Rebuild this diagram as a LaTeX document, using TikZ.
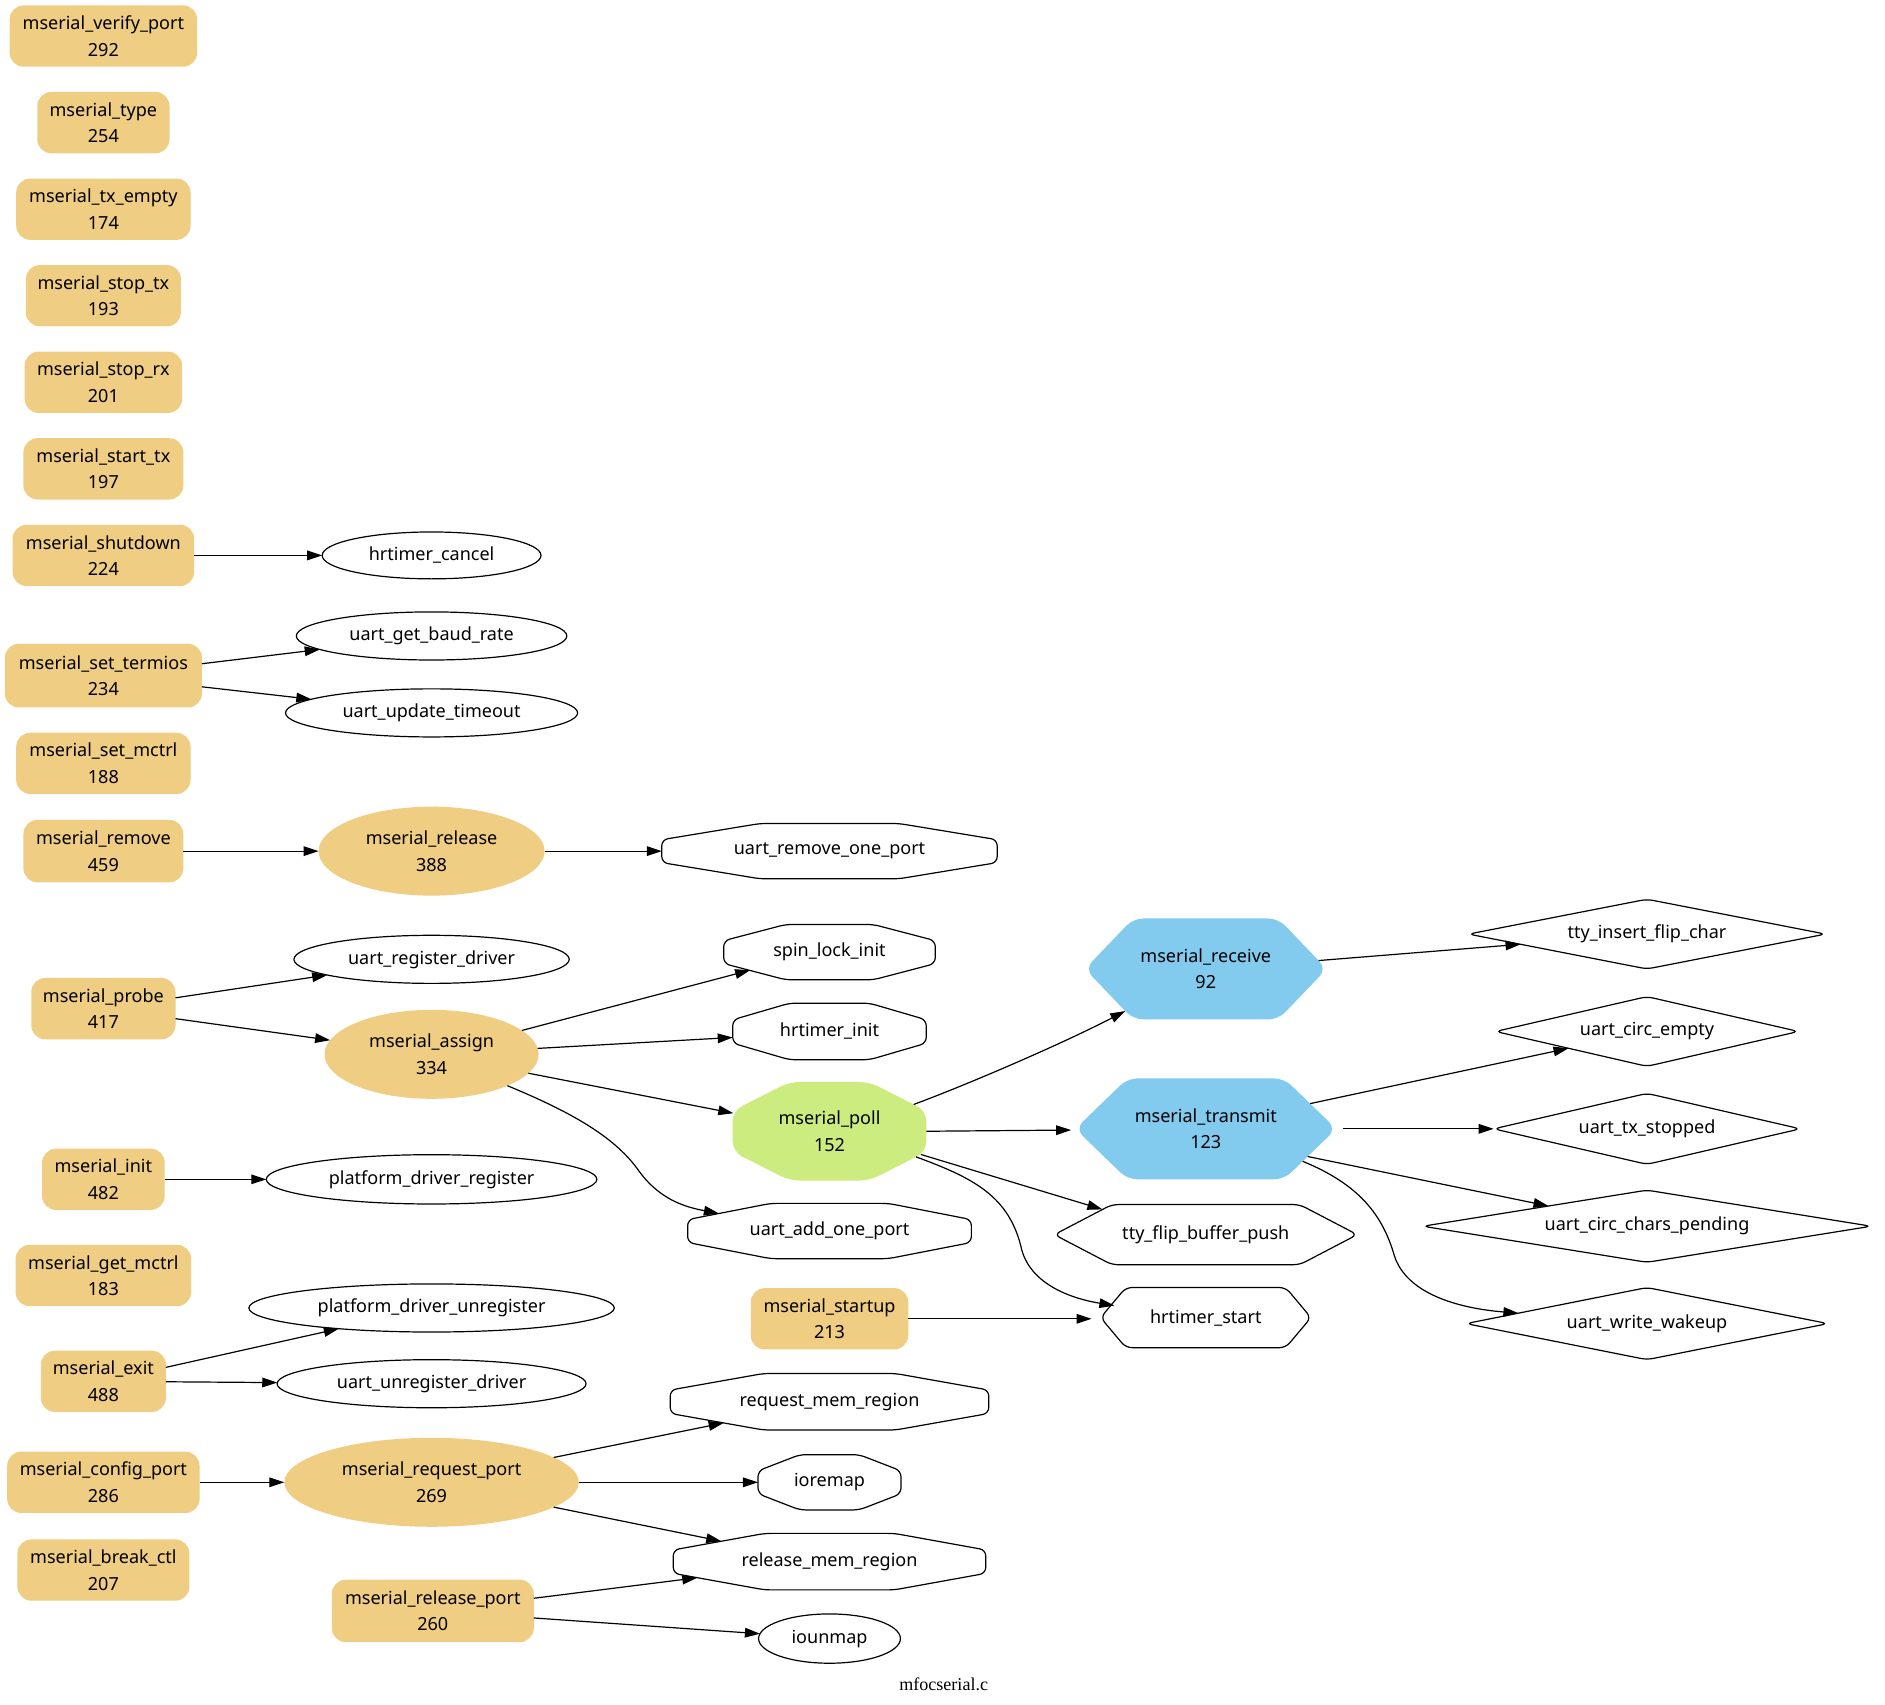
\documentclass[tikz,border=0pt]{standalone}
\usepackage{fontspec}
\setmainfont{Noto Sans}
\newfontfamily\titlefont{Liberation Serif}
\usetikzlibrary{shapes.geometric,arrows.meta,calc,backgrounds}
\definecolor{gold}{RGB}{239,205,130}
\definecolor{lgreen}{RGB}{205,236,127}
\definecolor{lblue}{RGB}{130,203,238}
\newcommand\hexout[3]{%
  \path[#3] (#1.west) -- ($(#1.north west)!#2!(#1.north east)$) -- ($(#1.north east)!#2!(#1.north west)$)
   -- (#1.east) -- ($(#1.south east)!#2!(#1.south west)$) -- ($(#1.south west)!#2!(#1.south east)$) -- cycle;}
\newcommand\octout[2]{%
  \path[#2] ($(#1.north west)!0.293!(#1.north east)$) -- ($(#1.north east)!0.293!(#1.north west)$)
   -- ($(#1.north east)!0.293!(#1.south east)$) -- ($(#1.south east)!0.293!(#1.north east)$)
   -- ($(#1.south east)!0.293!(#1.south west)$) -- ($(#1.south west)!0.293!(#1.south east)$)
   -- ($(#1.south west)!0.293!(#1.north west)$) -- ($(#1.north west)!0.293!(#1.south west)$) -- cycle;}
\begin{document}
\begin{tikzpicture}[x=0.6pt,y=-0.6pt,
  every node/.style={inner sep=0pt,outer sep=0pt,align=center,font=\fontsize{9}{13.2}\selectfont},
  sz/.style 2 args={minimum width=#1*0.6pt,minimum height=#2*0.6pt},
  gbox/.style 2 args={sz={#1}{#2},shape=rectangle,rounded corners=7pt,fill=gold},
  gell/.style 2 args={sz={#1}{#2},shape=ellipse,fill=gold},
  well/.style 2 args={sz={#1}{#2},shape=ellipse,draw,line width=0.6pt},
  plain/.style 2 args={sz={#1}{#2},shape=rectangle},
  outl/.style={draw,line width=0.6pt,rounded corners=3pt},
  bluefill/.style={fill=lblue,rounded corners=5pt},
  greenfill/.style={fill=lgreen,rounded corners=5pt},
  dia/.style n args={3}{sz={#1}{#2},shape=diamond,shape aspect=#3,rounded corners=3pt,draw,line width=0.6pt},
  arr/.style={-{Triangle[length=7.5pt,width=4.8pt]},line width=0.6pt}
]
\useasboundingbox (0,0) rectangle (1568,1418);
% gold boxes
\node[gbox={156}{51}] (verify) at (86,30) {mserial\_verify\_port\\292};
\node[gbox={110}{51}] (type) at (86,102) {mserial\_type\\254};
\node[gbox={145}{51}] (txempty) at (86,174) {mserial\_tx\_empty\\174};
\node[gbox={129}{51}] (stoptx) at (86,246) {mserial\_stop\_tx\\193};
\node[gbox={131}{51}] (stoprx) at (86,318) {mserial\_stop\_rx\\201};
\node[gbox={133}{51}] (starttx) at (86,390) {mserial\_start\_tx\\197};
\node[gbox={151}{51}] (shutdown) at (86,462) {mserial\_shutdown\\224};
\node[gbox={164}{53}] (settermios) at (86,562) {mserial\_set\_termios\\234};
\node[gbox={145}{51}] (setmctrl) at (86,635) {mserial\_set\_mctrl\\188};
\node[gbox={133}{52}] (remove) at (86,708) {mserial\_remove\\459};
\node[gbox={120}{51}] (probe) at (86,839) {mserial\_probe\\417};
\node[gbox={102}{51}] (init) at (86,981) {mserial\_init\\482};
\node[gbox={146}{51}] (getmctrl) at (86,1061) {mserial\_get\_mctrl\\183};
\node[gbox={104}{51}] (exit) at (86,1149) {mserial\_exit\\488};
\node[gbox={160}{51}] (configport) at (86,1233) {mserial\_config\_port\\286};
\node[gbox={143}{51}] (breakctl) at (86,1306) {mserial\_break\_ctl\\207};
\node[gbox={168}{52}] (releaseport) at (360,1340) {mserial\_release\_port\\260};
\node[gbox={131}{51}] (startup) at (690,1097) {mserial\_startup\\213};
% gold ellipses
\node[gell={188}{74}] (release) at (359,708) {mserial\_release\\388};
\node[gell={178}{74}] (assign) at (359,877) {mserial\_assign\\334};
\node[gell={245}{74}] (requestport) at (359,1233) {mserial\_request\_port\\269};
% white ellipses
\node[well={182}{39}] (hrcancel) at (359,462) {hrtimer\_cancel};
\node[well={225}{40}] (baud) at (359,529) {uart\_get\_baud\_rate};
\node[well={243}{40}] (updtimeout) at (359,593) {uart\_update\_timeout};
\node[well={229}{40}] (regdriver) at (359,798) {uart\_register\_driver};
\node[well={275}{41}] (pdreg) at (359,981) {platform\_driver\_register};
\node[well={304}{40}] (pdunreg) at (359,1088) {platform\_driver\_unregister};
\node[well={257}{40}] (unregdriver) at (359,1151) {uart\_unregister\_driver};
\node[well={118}{41}] (iounmap) at (690,1363) {iounmap};
% octagons
\node[plain={279}{46}] (removeone) at (690,708) {uart\_remove\_one\_port};
\node[plain={176}{46}] (spinlock) at (690,792) {spin\_lock\_init};
\node[plain={161}{47}] (hrinit) at (690,858) {hrtimer\_init};
\node[plain={236}{46}] (addone) at (690,1024) {uart\_add\_one\_port};
\node[plain={265}{47}] (reqmem) at (690,1166) {request\_mem\_region};
\node[plain={119}{46}] (ioremap) at (690,1233) {ioremap};
\node[plain={260}{47}] (relmem) at (690,1299) {release\_mem\_region};
\node[plain={161}{82}] (poll) at (690,941) {mserial\_poll\\152};
% hexagons
\node[plain={201}{84}] (receive) at (1003,806) {mserial\_receive\\92};
\node[plain={217}{84}] (transmit) at (1003,939) {mserial\_transmit\\123};
\node[plain={252}{50}] (flippush) at (1003,1027) {tty\_flip\_buffer\_push};
\node[plain={175}{50}] (hrstart) at (1003,1096) {hrtimer\_start};
\begin{pgfonlayer}{background}
\octout{removeone}{outl}
\octout{spinlock}{outl}
\octout{hrinit}{outl}
\octout{addone}{outl}
\octout{reqmem}{outl}
\octout{ioremap}{outl}
\octout{relmem}{outl}
\octout{poll}{greenfill}
\hexout{receive}{0.2}{bluefill}
\hexout{transmit}{0.2}{bluefill}
\hexout{flippush}{0.19}{outl}
\hexout{hrstart}{0.12}{outl}
\end{pgfonlayer}
% border points of octagons and hexagons
\coordinate (remIn) at (550.5,708);
\coordinate (spinIn) at (624,807);
\coordinate (hriIn) at (609.5,863);
\coordinate (pollIn) at (610,926);
\coordinate (addIn) at (598,1009.4);
\coordinate (reqIn) at (602,1183.6);
\coordinate (iorIn) at (630.5,1233);
\coordinate (relInA) at (600,1282);
\coordinate (relInB) at (580,1312.4);
\coordinate (pollOutA) at (760,918.7);
\coordinate (pollOutB) at (770.5,941);
\coordinate (pollOutC) at (766,960.3);
\coordinate (pollOutD) at (762,962.3);
\coordinate (rcvIn) at (936,841);
\coordinate (rcvOut) at (1096.8,799);
\coordinate (trIn) at (891,940);
\coordinate (trOutA) at (1089.8,918);
\coordinate (trOutB) at (1117,939);
\coordinate (trOutC) at (1087.7,962);
\coordinate (trOutD) at (1083.6,966);
\coordinate (fpIn) at (917,1006);
\coordinate (hsIn) at (908,1097);
\coordinate (hsInB) at (927,1086);
% diamonds
\node[dia={297}{58}{5.12}] (insflip) at (1370,777) {tty\_insert\_flip\_char};
\node[dia={252}{58}{4.34}] (circempty) at (1370,858) {uart\_circ\_empty};
\node[dia={255}{59}{4.32}] (txstopped) at (1370,939) {uart\_tx\_stopped};
\node[dia={373}{60}{6.22}] (charspending) at (1370,1020) {uart\_circ\_chars\_pending};
\node[dia={301}{60}{5.02}] (wakeup) at (1370,1101) {uart\_write\_wakeup};
% title
\node[font=\titlefont\fontsize{9}{11}\selectfont] (title) at (785,1401) {mfocserial.c};
% edges
\draw[arr] (shutdown) -- (hrcancel);
\draw[arr] (settermios) -- (baud);
\draw[arr] (settermios) -- (updtimeout);
\draw[arr] (remove) -- (release);
\draw[arr] (release) -- (remIn);
\draw[arr] (probe) -- (regdriver);
\draw[arr] (probe) -- (assign);
\draw[arr] (assign) -- (spinIn);
\draw[arr] (assign) -- (hriIn);
\draw[arr] (assign) -- (pollIn);
\draw[arr] (assign) .. controls (475,925) and (510,945) .. (530,972) .. controls (548,998) and (570,1004) .. (addIn);
\draw[arr] (init) -- (pdreg);
\draw[arr] (exit) -- (pdunreg);
\draw[arr] (exit) -- (unregdriver);
\draw[arr] (configport) -- (requestport);
\draw[arr] (requestport) -- (reqIn);
\draw[arr] (requestport) -- (iorIn);
\draw[arr] (requestport) -- (relInA);
\draw[arr] (releaseport) -- (relInB);
\draw[arr] (releaseport) -- (iounmap);
\draw[arr] (pollOutA) .. controls (800,904) and (880,870) .. (rcvIn);
\draw[arr] (pollOutB) -- (trIn);
\draw[arr] (pollOutC) -- (fpIn);
\draw[arr] (pollOutD) .. controls (810,980) and (840,995) .. (850,1040) .. controls (858,1068) and (890,1080) .. (hsInB);
\draw[arr] (startup) -- (hsIn);
\draw[arr] (rcvOut) -- (insflip);
\draw[arr] (trOutA) -- (circempty);
\draw[arr] (trOutB) -- (txstopped);
\draw[arr] (trOutC) -- (charspending);
\draw[arr] (trOutD) .. controls (1130,985) and (1150,1010) .. (1160,1045) .. controls (1170,1075) and (1210,1088) .. (wakeup);
\end{tikzpicture}
\end{document}
